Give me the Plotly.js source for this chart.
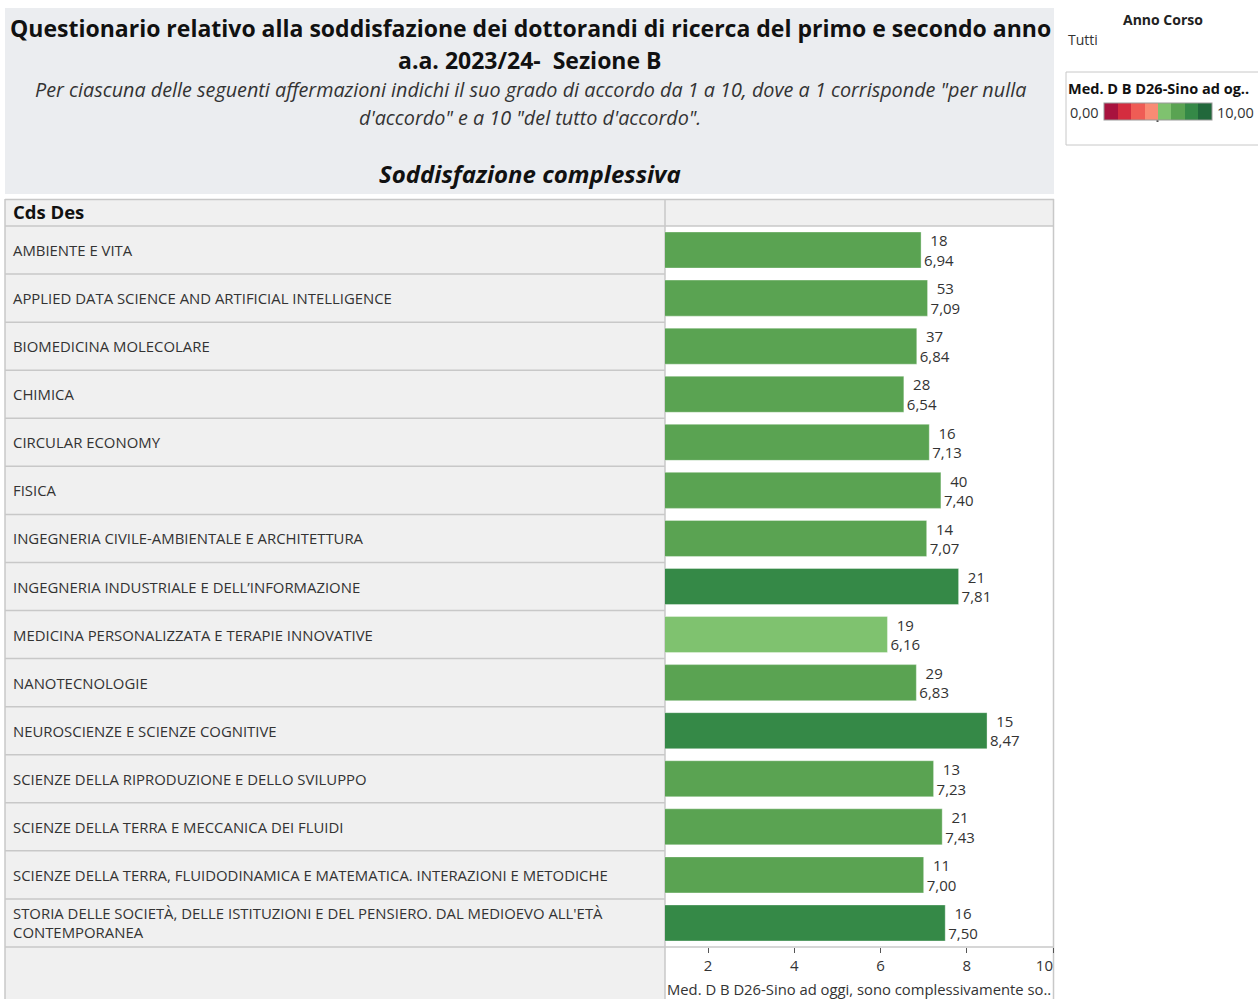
<!DOCTYPE html>
<html><head><meta charset="utf-8">
<script src="https://cdn.plot.ly/plotly-3.0.1.min.js"></script>
<style>body{margin:0;padding:0;background:#fff}#chart{width:1258px;height:999px}</style>
</head><body><div id="chart"></div>
<script>
// ---- data ----
const categories = [
  "AMBIENTE E VITA",
  "APPLIED DATA SCIENCE AND ARTIFICIAL INTELLIGENCE",
  "BIOMEDICINA MOLECOLARE",
  "CHIMICA",
  "CIRCULAR ECONOMY",
  "FISICA",
  "INGEGNERIA CIVILE-AMBIENTALE E ARCHITETTURA",
  "INGEGNERIA INDUSTRIALE E DELL’INFORMAZIONE",
  "MEDICINA PERSONALIZZATA E TERAPIE INNOVATIVE",
  "NANOTECNOLOGIE",
  "NEUROSCIENZE E SCIENZE COGNITIVE",
  "SCIENZE DELLA RIPRODUZIONE E DELLO SVILUPPO",
  "SCIENZE DELLA TERRA E MECCANICA DEI FLUIDI",
  "SCIENZE DELLA TERRA, FLUIDODINAMICA E MATEMATICA. INTERAZIONI E METODICHE",
  "STORIA DELLE SOCIETÀ, DELLE ISTITUZIONI E DEL PENSIERO. DAL MEDIOEVO ALL'ETÀ<br>CONTEMPORANEA"
];
const medianValues = [6.94, 7.09, 6.84, 6.54, 7.13, 7.40, 7.07, 7.81, 6.16, 6.83, 8.47, 7.23, 7.43, 7.00, 7.50];
const respondentCounts = [18, 53, 37, 28, 16, 40, 14, 21, 19, 29, 15, 13, 21, 11, 16];
const xTickValues = [2, 4, 6, 8, 10];
const xTickLabels = ["2", "4", "6", "8", "10\u2007\u2007"];
const paletteColors = ["#a8123e", "#d42d3f", "#ef5c55", "#f98b74", "#7fc26f", "#5aa352", "#358947", "#21683b"];

(function () {
const W = 1258, H = 999;
const px = x => x / W;
const py = y => 1 - y / H;
const FONT = "Open Sans, Noto Sans, sans-serif";
const fmt = v => v.toFixed(2).replace('.', ',');

const stepScale = [];
paletteColors.forEach((c, i) => {
  stepScale.push([i / paletteColors.length, c]);
  stepScale.push([(i + 1) / paletteColors.length, c]);
});

const barText = medianValues.map((v, i) => respondentCounts[i] + "<br>" + fmt(v));

const trace = {
  type: "bar",
  orientation: "h",
  y: categories,
  x: medianValues,
  width: 0.75,
  text: barText,
  textposition: "outside",
  constraintext: "none",
  cliponaxis: false,
  textfont: {family: FONT, size: 15, color: "#333"},
  hoverinfo: "skip",
  marker: {
    color: medianValues,
    cmin: 0, cmax: 10,
    colorscale: stepScale,
    line: {color: "rgba(255,255,255,0.35)", width: 1},
    showscale: true,
    colorbar: {
      orientation: "h",
      x: px(1104), xanchor: "left",
      y: py(103), yanchor: "top",
      len: 108, lenmode: "pixels",
      thickness: 17, thicknessmode: "pixels",
      xpad: 0, ypad: 0,
      outlinewidth: 1, outlinecolor: "#999",
      showticklabels: false, ticks: ""
    }
  }
};

const shapes = [];
const gridC = "#c8c8c8";
function rect(x0, y0, x1, y1, fill) {
  shapes.push({type: "rect", xref: "paper", yref: "paper", x0: px(x0), x1: px(x1), y0: py(y0), y1: py(y1),
    fillcolor: fill, line: {width: 0}, layer: "below"});
}
function hline(x0, x1, y, c) {
  shapes.push({type: "line", xref: "paper", yref: "paper", x0: px(x0), x1: px(x1), y0: py(y), y1: py(y),
    line: {color: c || gridC, width: 1.5}, layer: "below"});
}
function vline(x, y0, y1, c) {
  shapes.push({type: "line", xref: "paper", yref: "paper", x0: px(x), x1: px(x), y0: py(y0), y1: py(y1),
    line: {color: c || gridC, width: 1.5}, layer: "below"});
}
rect(5, 8, 1054, 194, "#ebedf0");
rect(5, 199, 1054, 226, "#f0f0f0");
rect(5, 226, 665, 999, "#f0f0f0");
hline(5, 1054, 199.5);
hline(5, 1054, 226);
vline(5, 199, 999);
vline(665, 199, 999);
vline(1053.5, 199, 999);
const rowTop = 226, rowBottom = 947, n = categories.length;
for (let i = 1; i <= n; i++) {
  const yy = rowTop + (rowBottom - rowTop) * i / n;
  hline(5, 665, yy);
}
hline(665, 1054, 947);
shapes.push({type: "rect", xref: "paper", yref: "paper", x0: px(1066), x1: px(1262), y0: py(72), y1: py(145),
  fillcolor: "rgba(0,0,0,0)", line: {color: "#c8c8c8", width: 1}});
shapes.push({type: "line", xref: "paper", yref: "paper", x0: px(1157.5), x1: px(1157.5), y0: py(117), y1: py(122),
  line: {color: "#555", width: 2}});

const annotations = [];
function txt(text, x, y, opts) {
  annotations.push(Object.assign({
    text: text, xref: "paper", yref: "paper", x: px(x), y: py(y), showarrow: false,
    xanchor: "center", yanchor: "middle",
    font: {family: FONT, size: 14, color: "#222"}
  }, opts || {}));
}
txt("<b>Questionario relativo alla soddisfazione dei dottorandi di ricerca del primo e secondo anno</b>", 530, 28,
  {font: {family: FONT, size: 23, color: "#111"}});
txt("<b>a.a. 2023/24-\u00a0\u00a0Sezione B</b>", 530, 60, {font: {family: FONT, size: 23, color: "#111"}});
txt("<i>Per ciascuna delle seguenti affermazioni indichi il suo grado di accordo da 1 a 10, dove a 1 corrisponde \"per nulla</i>", 530, 90,
  {font: {family: FONT, size: 19.8, color: "#333"}});
txt("<i>d'accordo\" e a 10 \"del tutto d'accordo\".</i>", 530, 117, {font: {family: FONT, size: 19.8, color: "#333"}});
txt("<b><i>Soddisfazione complessiva</i></b>", 530, 174, {font: {family: FONT, size: 24, color: "#111"}});
txt("<b>Cds Des</b>", 11, 211, {xanchor: "left", font: {family: FONT, size: 18.5, color: "#111"}});
txt("<b>Anno Corso</b>", 1163, 20, {font: {family: FONT, size: 14, color: "#222"}});
txt("Tutti", 1066, 40, {xanchor: "left", font: {family: FONT, size: 14, color: "#333"}});
txt("<b>Med. D B D26-Sino ad og..</b>", 1066, 89, {xanchor: "left", font: {family: FONT, size: 14.5, color: "#111"}});
txt("0,00", 1068, 112, {xanchor: "left", font: {family: FONT, size: 14.5, color: "#333"}});
txt("10,00", 1215, 112, {xanchor: "left", font: {family: FONT, size: 14.5, color: "#333"}});
txt("Med. D B D26-Sino ad oggi, sono complessivamente so..", 665, 989, {xanchor: "left", font: {family: FONT, size: 14.8, color: "#333"}});
categories.forEach(c => {
  annotations.push({text: c, xref: "paper", yref: "y", x: px(11), y: c, showarrow: false,
    xanchor: "left", yanchor: "middle", align: "left",
    font: {family: FONT, size: 14.9, color: "#333"}});
});

const layout = {
  width: W, height: H,
  margin: {l: 0, r: 0, t: 0, b: 0},
  paper_bgcolor: "#ffffff",
  plot_bgcolor: "rgba(0,0,0,0)",
  showlegend: false,
  xaxis: {
    domain: [px(665), px(1053)],
    range: [1, 10],
    tickvals: xTickValues,
    ticktext: xTickLabels,
    ticks: "outside", ticklen: 5, tickcolor: "#555", tickwidth: 1,
    showgrid: false, zeroline: false, showline: false,
    tickfont: {family: FONT, size: 15, color: "#333"},
    fixedrange: true
  },
  yaxis: {
    domain: [py(947), py(226)],
    type: "category",
    categoryorder: "array", categoryarray: categories,
    range: [n - 0.5, -0.5],
    showticklabels: false, ticks: "",
    showgrid: false, zeroline: false, showline: false,
    fixedrange: true
  },
  shapes: shapes,
  annotations: annotations
};

Plotly.newPlot("chart", [trace], layout, {displayModeBar: false, staticPlot: true});
})();
</script>
</body></html>
